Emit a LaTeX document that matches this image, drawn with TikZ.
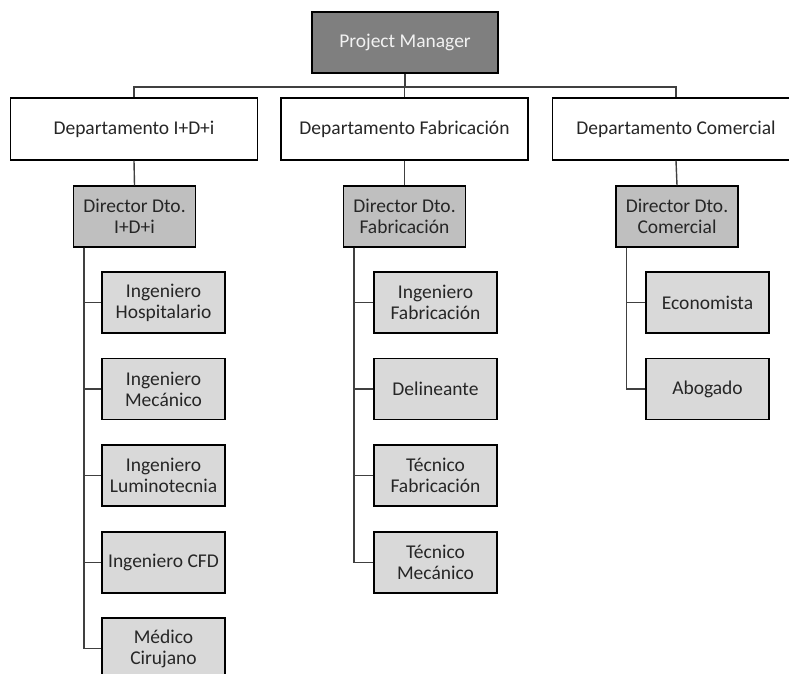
\documentclass[tikz,border=0pt]{standalone}
\usepackage{fontspec}
\setmainfont{Carlito}
\definecolor{pmfill}{HTML}{7F7F7F}
\definecolor{dirfill}{HTML}{BFBFBF}
\definecolor{subfill}{HTML}{D9D9D9}
\definecolor{txt}{HTML}{262626}
\definecolor{conn}{HTML}{404040}
\begin{document}
\begin{tikzpicture}[x=1pt,y=-1pt,
  box/.style={draw=black,line width=1.4pt,align=center,inner sep=0pt,
    text=txt,font=\fontsize{19.5}{21}\selectfont},
  pmbox/.style={box,fill=pmfill,text=white!95!black,minimum width=186pt,minimum height=61pt},
  deptbox/.style={box,fill=white,minimum width=247pt,minimum height=62pt},
  dirbox/.style={box,fill=dirfill,minimum width=122pt,minimum height=61pt},
  subbox/.style={box,fill=subfill,minimum width=123pt,minimum height=61pt},
  link/.style={draw=conn,line width=1.4pt}]
\useasboundingbox (0,0) rectangle (789,673);
\clip (0,0) rectangle (789,673);
% nodes
\node[pmbox] (pm) at (405,42.5) {Project Manager};
\node[deptbox] (d1) at (134,129) {Departamento I+D+i};
\node[deptbox] (d2) at (404.5,129) {Departamento Fabricación};
\node[deptbox] (d3) at (676,129) {Departamento Comercial};
\node[dirbox] (r1) at (134.5,216.5) {Director Dto.\\I+D+i};
\node[dirbox] (r2) at (404.5,216.5) {Director Dto.\\Fabricación};
\node[dirbox] (r3) at (677,216.5) {Director Dto.\\Comercial};
% column 1
\node[subbox] (a1) at (163.5,302.5) {Ingeniero\\Hospitalario};
\node[subbox] (a2) at (163.5,389) {Ingeniero\\Mecánico};
\node[subbox] (a3) at (163.5,475.5) {Ingeniero\\Luminotecnia};
\node[subbox] (a4) at (163.5,562.5) {Ingeniero CFD};
\node[subbox] (a5) at (163.5,648.5) {Médico\\Cirujano};
% column 2
\node[subbox] (b1) at (435.5,302.5) {Ingeniero\\Fabricación};
\node[subbox] (b2) at (435.5,389) {Delineante};
\node[subbox] (b3) at (435.5,475.5) {Técnico\\Fabricación};
\node[subbox] (b4) at (435.5,562.5) {Técnico\\Mecánico};
% column 3
\node[subbox] (c1) at (707.5,302.5) {Economista};
\node[subbox] (c2) at (707.5,389) {Abogado};
% connectors top
\coordinate (hub) at (405,87);
\path[link] (pm.south) -- (hub);
\path[link] (hub) -| (d1.north);
\path[link] (hub) -| (d2.north);
\path[link] (hub) -| (d3.north);
\path[link] (d1.south) -- (r1.north);
\path[link] (d2.south) -- (r2.north);
\path[link] (d3.south) -- (r3.north);
% spines
\coordinate (s1) at ([xshift=11pt]r1.south west);
\coordinate (s2) at ([xshift=11pt]r2.south west);
\coordinate (s3) at ([xshift=11pt]r3.south west);
\foreach \n in {a1,a2,a3,a4,a5} \path[link] (s1) |- (\n.west);
\foreach \n in {b1,b2,b3,b4} \path[link] (s2) |- (\n.west);
\foreach \n in {c1,c2} \path[link] (s3) |- (\n.west);
\end{tikzpicture}
\end{document}
